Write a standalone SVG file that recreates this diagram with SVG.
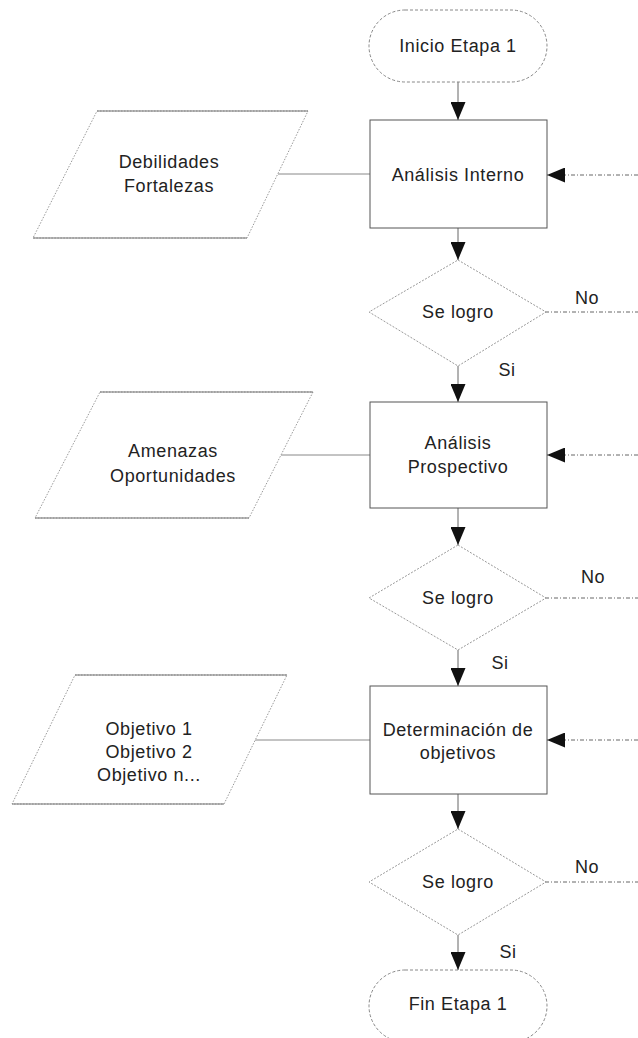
<svg xmlns="http://www.w3.org/2000/svg" width="638" height="1038" viewBox="0 0 638 1038">
<defs>
<marker id="arr" viewBox="0 0 18 15" refX="18" refY="7.5" markerWidth="18" markerHeight="15" orient="auto" markerUnits="userSpaceOnUse">
<path d="M0,0 L18,7.5 L0,15 z" fill="#111"/>
</marker>
</defs>
<style>
text{font-family:"Liberation Sans",Arial,sans-serif;font-size:18px;fill:#222;text-anchor:middle;dominant-baseline:central;letter-spacing:0.6px}
.term{fill:#fff;stroke:#888;stroke-width:1;stroke-dasharray:3 2}
.proc{fill:#fff;stroke:#555;stroke-width:1}
.dec{fill:#fff;stroke:#999;stroke-width:1;stroke-dasharray:2 1.5}
.para{fill:#fff;stroke:#999;stroke-width:1;stroke-dasharray:1.5 1.5}
.pedge{stroke:#777;stroke-width:1.2}
.flow{stroke:#666;stroke-width:1;fill:none}
.dd{stroke:#666;stroke-width:1;fill:none;stroke-dasharray:4 2 1 2}
.link{stroke:#888;stroke-width:1;fill:none}
</style>
<g id="connectors">
<line class="flow" x1="458" y1="82" x2="458" y2="120" marker-end="url(#arr)"/>
<line class="flow" x1="458" y1="228" x2="458" y2="260" marker-end="url(#arr)"/>
<line class="flow" x1="458" y1="366" x2="458" y2="402" marker-end="url(#arr)"/>
<line class="flow" x1="458" y1="508" x2="458" y2="545" marker-end="url(#arr)"/>
<line class="flow" x1="458" y1="650" x2="458" y2="686" marker-end="url(#arr)"/>
<line class="flow" x1="458" y1="794" x2="458" y2="829" marker-end="url(#arr)"/>
<line class="flow" x1="458" y1="935" x2="458" y2="970" marker-end="url(#arr)"/>
<line class="dd" x1="638" y1="175" x2="547" y2="175" marker-end="url(#arr)"/>
<line class="dd" x1="638" y1="455" x2="547" y2="455" marker-end="url(#arr)"/>
<line class="dd" x1="638" y1="740" x2="547" y2="740" marker-end="url(#arr)"/>
<line class="dd" x1="545" y1="312" x2="638" y2="312"/>
<line class="dd" x1="545" y1="598" x2="638" y2="598"/>
<line class="dd" x1="545" y1="882" x2="638" y2="882"/>
<line class="link" x1="278" y1="174" x2="370" y2="174"/>
<line class="link" x1="281" y1="455" x2="370" y2="455"/>
<line class="link" x1="255" y1="740" x2="370" y2="740"/>
<text x="587" y="298">No</text>
<text x="593" y="577">No</text>
<text x="587" y="867">No</text>
<text x="507" y="370">Si</text>
<text x="500" y="663">Si</text>
<text x="508" y="952">Si</text>
</g>
<g id="start">
<rect class="term" x="369" y="10" width="178" height="72" rx="36"/>
<text x="458" y="46">Inicio Etapa 1</text>
</g>
<g id="analisis-interno">
<rect class="proc" x="370" y="120" width="177" height="108"/>
<text x="458" y="175">Análisis Interno</text>
</g>
<g id="decision1">
<polygon class="dec" points="458,260 546,312 458,366 369,312"/>
<text x="458" y="312">Se logro</text>
</g>
<g id="debilidades">
<polygon class="para" points="97,111 308,111 247,238 33,238"/>
<line class="pedge" x1="97" y1="111" x2="308" y2="111"/>
<line class="pedge" x1="33" y1="238" x2="247" y2="238"/>
<text x="169" y="162">Debilidades</text>
<text x="169" y="186">Fortalezas</text>
</g>
<g id="analisis-prospectivo">
<rect class="proc" x="370" y="402" width="177" height="106"/>
<text x="458" y="443">Análisis</text>
<text x="458" y="467">Prospectivo</text>
</g>
<g id="decision2">
<polygon class="dec" points="458,545 546,598 458,650 369,598"/>
<text x="458" y="598">Se logro</text>
</g>
<g id="amenazas">
<polygon class="para" points="100,392 313,392 249,518 35,518"/>
<line class="pedge" x1="100" y1="392" x2="313" y2="392"/>
<line class="pedge" x1="35" y1="518" x2="249" y2="518"/>
<text x="173" y="451">Amenazas</text>
<text x="173" y="476">Oportunidades</text>
</g>
<g id="determinacion">
<rect class="proc" x="370" y="686" width="177" height="108"/>
<text x="458" y="730">Determinación de</text>
<text x="458" y="753">objetivos</text>
</g>
<g id="decision3">
<polygon class="dec" points="458,829 546,882 458,935 369,882"/>
<text x="458" y="882">Se logro</text>
</g>
<g id="objetivos">
<polygon class="para" points="75,675 287,675 224,804 12,804"/>
<line class="pedge" x1="75" y1="675" x2="287" y2="675"/>
<line class="pedge" x1="12" y1="804" x2="224" y2="804"/>
<text x="149" y="729">Objetivo 1</text>
<text x="149" y="752">Objetivo 2</text>
<text x="149" y="775">Objetivo n...</text>
</g>
<g id="end">
<rect class="term" x="369" y="970" width="178" height="72" rx="36"/>
<text x="458" y="1004">Fin Etapa 1</text>
</g>
</svg>
